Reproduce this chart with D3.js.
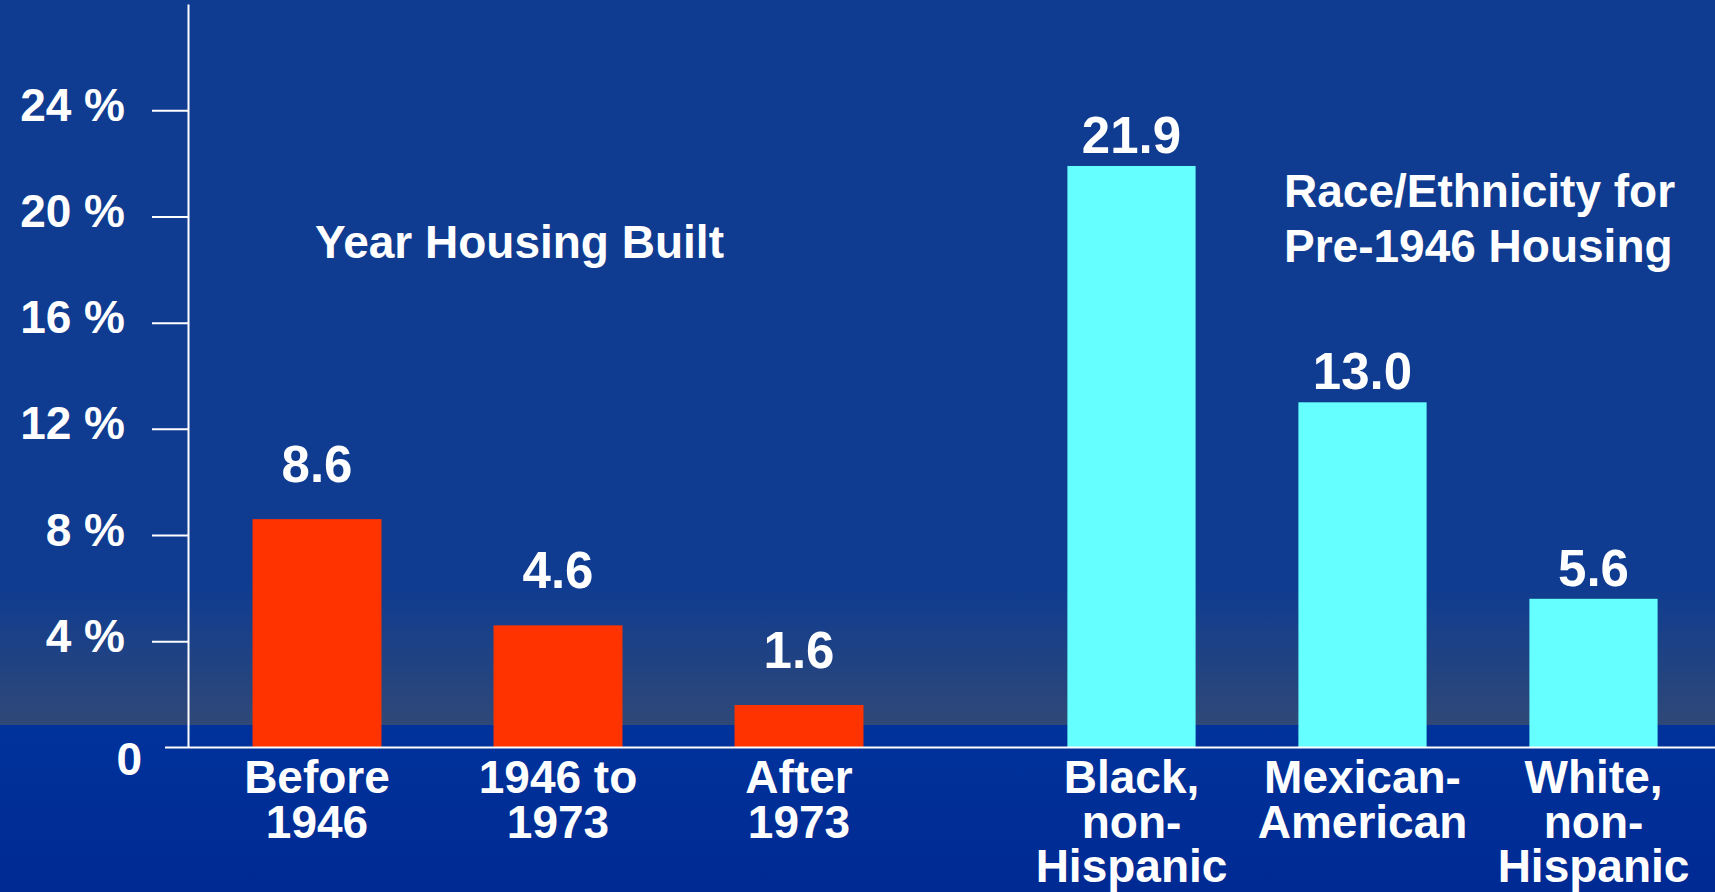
<!DOCTYPE html>
<html>
<head>
<meta charset="utf-8">
<script src="https://cdn.jsdelivr.net/npm/d3@7"></script>
<style>
  html, body { margin: 0; padding: 0; background: #0f3c91; }
  svg { display: block; }
  text { font-family: "Liberation Sans", Arial, sans-serif; font-weight: bold; fill: #fff; }
</style>
</head>
<body>
<svg id="chart" width="1715" height="892"></svg>
<script>
// year housing built (red group)
const yearCategories = ['Before 1946', '1946 to 1973', 'After 1973'];
const yearLabels = [['Before', '1946'], ['1946 to', '1973'], ['After', '1973']];
const yearValues = [8.6, 4.6, 1.6];

// race/ethnicity for pre-1946 housing (cyan group)
const raceCategories = ['Black, non-Hispanic', 'Mexican-American', 'White, non-Hispanic'];
const raceLabels = [['Black,', 'non-', 'Hispanic'], ['Mexican-', 'American'], ['White,', 'non-', 'Hispanic']];
const raceValues = [21.9, 13.0, 5.6];

const yTicks = [0, 4, 8, 12, 16, 20, 24];
const yTickLabels = ['0', '4 %', '8 %', '12 %', '16 %', '20 %', '24 %'];

const svg = d3.select('#chart');
const W = 1715, H = 892;

// background: flat blue, a greyish fade toward the floor, darker band below
const defs = svg.append('defs');
const grad = defs.append('linearGradient')
  .attr('id', 'fade').attr('x1', 0).attr('y1', 0).attr('x2', 0).attr('y2', 1);
grad.append('stop').attr('offset', '0%').attr('stop-color', '#0f3c91');
grad.append('stop').attr('offset', '100%').attr('stop-color', '#2f4877');
const low = defs.append('linearGradient')
  .attr('id', 'low').attr('x1', 0).attr('y1', 0).attr('x2', 0).attr('y2', 1);
low.append('stop').attr('offset', '0%').attr('stop-color', '#00329b');
low.append('stop').attr('offset', '100%').attr('stop-color', '#002a93');

svg.append('rect').attr('width', W).attr('height', H).attr('fill', '#0f3c91');
svg.append('rect').attr('y', 585).attr('width', W).attr('height', 140).attr('fill', 'url(#fade)');
svg.append('rect').attr('y', 725).attr('width', W).attr('height', H - 725).attr('fill', 'url(#low)');

const axisX = 188;
const y = d3.scaleLinear().domain([0, 28]).range([747.5, 4]);

// one band scale per group, the two groups sit apart
const xYear = d3.scaleBand().domain(yearCategories)
  .range([196.5, 919.5]).paddingInner(0.465).paddingOuter(0.2325);
const xRace = d3.scaleBand().domain(raceCategories)
  .range([1016, 1709]).paddingInner(0.445).paddingOuter(0.2225);

const groups = [
  { x: xYear, cats: yearCategories, vals: yearValues, labels: yearLabels, color: '#ff3300', gap: 37 },
  { x: xRace, cats: raceCategories, vals: raceValues, labels: raceLabels, color: '#66ffff', gap: 13 }
];

groups.forEach(grp => {
  const data = grp.cats.map((c, i) => ({ cat: c, value: grp.vals[i], lines: grp.labels[i] }));

  svg.append('g').selectAll('rect')
    .data(data)
    .join('rect')
    .attr('x', d => grp.x(d.cat))
    .attr('width', grp.x.bandwidth())
    .attr('y', d => y(d.value))
    .attr('height', d => y(0) - y(d.value))
    .attr('fill', grp.color);

  svg.append('g').selectAll('text')
    .data(data)
    .join('text')
    .attr('x', d => grp.x(d.cat) + grp.x.bandwidth() / 2)
    .attr('y', d => y(d.value) - grp.gap)
    .attr('text-anchor', 'middle')
    .attr('font-size', 51)
    .text(d => d.value.toFixed(1));

  const cl = svg.append('g').selectAll('text')
    .data(data)
    .join('text')
    .attr('text-anchor', 'middle')
    .attr('font-size', 46)
    .attr('transform', d => `translate(${grp.x(d.cat) + grp.x.bandwidth() / 2},793)`);
  cl.selectAll('tspan')
    .data(d => d.lines)
    .join('tspan')
    .attr('x', 0)
    .attr('y', (d, i) => i * 44.5)
    .text(d => d);
});

// y axis
const yAxis = svg.append('g')
  .attr('transform', `translate(${axisX},0)`)
  .call(d3.axisLeft(y)
    .tickValues(yTicks.filter(t => t > 0))
    .tickSize(36)
    .tickSizeOuter(0)
    .tickPadding(27)
    .tickFormat(d => yTickLabels[yTicks.indexOf(d)]));
yAxis.select('.domain').attr('stroke', '#fff').attr('stroke-width', 2);
yAxis.selectAll('.tick line').attr('stroke', '#fff').attr('stroke-width', 2);
yAxis.selectAll('.tick text')
  .attr('fill', '#fff')
  .attr('font-size', 46)
  .attr('font-family', '"Liberation Sans", Arial, sans-serif')
  .attr('font-weight', 'bold')
  .attr('dy', 10);

// zero label sits a bit lower and further right
svg.append('text')
  .attr('x', 142)
  .attr('y', y(0) + 27)
  .attr('text-anchor', 'end')
  .attr('font-size', 46)
  .text(yTickLabels[0]);

// x axis baseline
svg.append('line')
  .attr('x1', 165).attr('x2', W)
  .attr('y1', y(0)).attr('y2', y(0))
  .attr('stroke', '#fff').attr('stroke-width', 2);

// group titles
svg.append('text')
  .attr('x', 315).attr('y', 258)
  .attr('font-size', 46)
  .text('Year Housing Built');

svg.append('text')
  .attr('x', 1284).attr('y', 207)
  .attr('font-size', 46)
  .selectAll('tspan')
  .data(['Race/Ethnicity for', 'Pre-1946 Housing'])
  .join('tspan')
  .attr('x', 1284)
  .attr('dy', (d, i) => (i === 0 ? 0 : 55))
  .text(d => d);
</script>
</body>
</html>
